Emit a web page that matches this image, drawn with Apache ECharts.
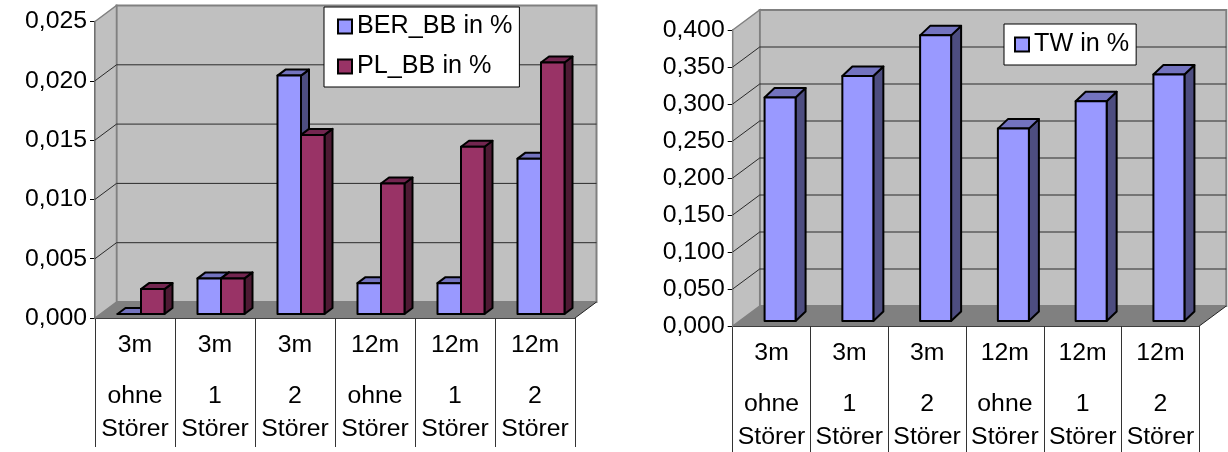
<!DOCTYPE html>
<html><head><meta charset="utf-8">
<style>html,body{margin:0;padding:0;background:#fff}#c{width:1228px;height:452px}</style>
<script src="https://cdn.jsdelivr.net/npm/echarts@6/dist/echarts.min.js"></script>
</head><body><div id="c"></div>
<script>
const distances = ['3m','3m','3m','12m','12m','12m'];
const conditions = ['ohne','1','2','ohne','1','2'];
const categories = distances.map((d,i)=>d+'|'+conditions[i]);
const berBB = [0,0.003,0.0201,0.0026,0.0026,0.0131];
const plBB = [0.0021,0.003,0.0151,0.011,0.0141,0.0212];
const tw = [0.302,0.331,0.386,0.260,0.297,0.333];
const leftTicks = [0,0.005,0.01,0.015,0.02,0.025];
const rightTicks = [0,0.05,0.1,0.15,0.2,0.25,0.3,0.35,0.4];

const FONT='"Liberation Sans"', FS=24.8;
const WALL='#C0C0C0', FLOOR='#808080', EDGE='#808080', GRID='#2a2a2a';
const BLUE={front:'#9999FF',side:'#4D4D80',top:'#7373BF'};
const MAROON={front:'#993366',side:'#4D1A33',top:'#732650'};
const L={dx:21.5,dy:16,barDx:8,barDy:6,lift:4,barW:23.5,shift:6};
const R={dx:27,dy:20,barDx:10,barDy:9.5,lift:5,barW:31,shift:8.5};

function wall(g,ticks){return function(params,api){
  const c=params.coordSys, x0=c.x, x1=c.x+c.width, y0=c.y+c.height, yT=c.y, dx=g.dx, dy=g.dy;
  const kids=[
    {type:'polygon',shape:{points:[[x0+dx,yT-dy],[x1+dx,yT-dy],[x1+dx,y0-dy],[x0+dx,y0-dy]]},style:{fill:WALL,stroke:EDGE,lineWidth:2}},
    {type:'polygon',shape:{points:[[x0,yT],[x0+dx,yT-dy],[x0+dx,y0-dy],[x0,y0]]},style:{fill:WALL,stroke:EDGE,lineWidth:1.5}},
    {type:'polygon',shape:{points:[[x0,y0],[x0+dx,y0-dy],[x1+dx,y0-dy],[x1,y0]]},style:{fill:FLOOR,stroke:null}}
  ];
  ticks.forEach((t,i)=>{
    if(i===0||i===ticks.length-1) return;
    const y=api.coord([0,t])[1];
    kids.push({type:'polyline',shape:{points:[[x0,y],[x0+dx,y-dy],[x1+dx,y-dy]]},style:{fill:null,stroke:GRID,lineWidth:1}});
  });
  kids.push({type:'polyline',shape:{points:[[x1,y0],[x1+dx,y0-dy]]},style:{fill:null,stroke:'#222',lineWidth:1}});
  return {type:'group',children:kids};
};}

function bars(g,pal,slot,slots){return function(params,api){
  const p=api.coord([api.value(0),api.value(1)]);
  const base=api.coord([api.value(0),0]);
  const cx=p[0]+g.shift, l=cx-slots*g.barW/2+slot*g.barW, r=l+g.barW;
  const t=p[1]-g.lift, b=base[1]-g.lift, ax=g.barDx, ay=g.barDy;
  const st=f=>({fill:f,stroke:'#000',lineWidth:2,lineJoin:'round'});
  return {type:'group',children:[
    {type:'polygon',shape:{points:[[r,t],[r+ax,t-ay],[r+ax,b-ay],[r,b]]},style:st(pal.side)},
    {type:'polygon',shape:{points:[[l,t],[l+ax,t-ay],[r+ax,t-ay],[r,t]]},style:st(pal.top)},
    {type:'polygon',shape:{points:[[l,t],[r,t],[r,b],[l,b]]},style:st(pal.front)}
  ]};
};}

function xAxis(idx){return {type:'category',gridIndex:idx,data:categories,boundaryGap:true,
  axisLine:{show:true,lineStyle:{color:'#000',width:1.5}},
  axisTick:{show:true,length:129,lineStyle:{color:'#333',width:1}},
  axisLabel:{margin:1,interval:0,
    formatter:v=>{const a=v.split('|');return '{a|'+a[0]+'}\n{b|'+a[1]+'}\n{c|Störer}';},
    rich:{a:{fontFamily:FONT,fontSize:FS,lineHeight:52,color:'#000'},
          b:{fontFamily:FONT,fontSize:FS,lineHeight:50,color:'#000'},
          c:{fontFamily:FONT,fontSize:FS,lineHeight:16,color:'#000'}}}};}
function yAxis(idx,ticks){const step=ticks[1]-ticks[0];return {type:'value',gridIndex:idx,min:0,max:ticks[ticks.length-1],interval:step,
  splitLine:{show:false},
  axisLine:{show:true,lineStyle:{color:'#000',width:1.5}},
  axisTick:{show:true,length:5,lineStyle:{color:'#000',width:1}},
  axisLabel:{margin:8,fontFamily:FONT,fontSize:FS,color:'#000',formatter:v=>v.toFixed(3).replace('.',',')}};}

function custom(name,idx,render,data,color,z){return {type:'custom',name,xAxisIndex:idx,yAxisIndex:idx,coordinateSystem:'cartesian2d',
  clip:false,silent:true,z,renderItem:render,data,encode:{x:0,y:1},itemStyle:{color,borderColor:'#000',borderWidth:1.5},animation:false};}
const pts=a=>a.map((v,i)=>[i,v]);

const legendBase={orient:'vertical',backgroundColor:'#fff',borderColor:'#000',borderWidth:1,icon:'rect',itemWidth:14,itemHeight:14,borderRadius:0,
  textStyle:{fontFamily:FONT,fontSize:25.2,color:'#000'},selectedMode:false,z:20};

const chart=echarts.init(document.getElementById('c'),null,{renderer:'canvas'});
chart.setOption({
  animation:false,
  grid:[
    {left:95,top:21.5,width:480,height:296.5,containLabel:false},
    {left:732.7,top:30,width:466.6,height:296,containLabel:false}
  ],
  xAxis:[xAxis(0),xAxis(1)],
  yAxis:[yAxis(0,leftTicks),yAxis(1,rightTicks)],
  legend:[
    Object.assign({},legendBase,{data:['BER_BB in %','PL_BB in %'],left:324,top:7,padding:[7,7,8,13],itemGap:15}),
    Object.assign({},legendBase,{data:['TW in %'],left:1004,top:24,padding:[8,7,8,10]})
  ],
  series:[
    custom('wallL',0,wall(L,leftTicks),[[0,0]],WALL,1),
    custom('BER_BB in %',0,bars(L,BLUE,0,2),pts(berBB),BLUE.front,3),
    custom('PL_BB in %',0,bars(L,MAROON,1,2),pts(plBB),MAROON.front,4),
    custom('wallR',1,wall(R,rightTicks),[[0,0]],WALL,1),
    custom('TW in %',1,bars(R,BLUE,0,1),pts(tw),BLUE.front,3)
  ]
});
</script></body></html>
